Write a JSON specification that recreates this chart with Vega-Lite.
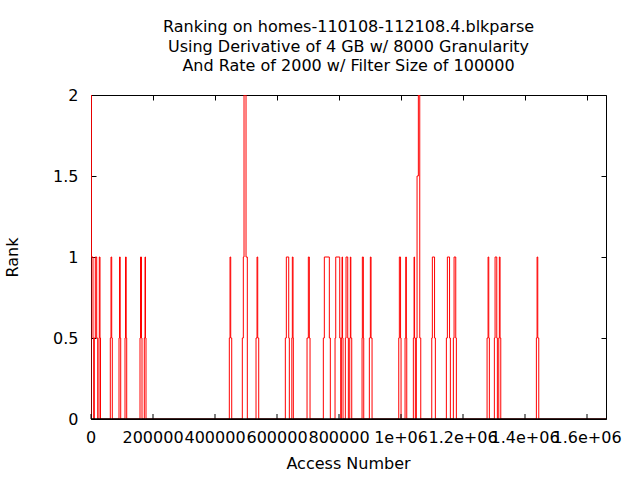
{
  "$schema": "https://vega.github.io/schema/vega-lite/v6.json",
  "width": 515,
  "height": 324,
  "autosize": "none",
  "padding": {"left": 91, "top": 95, "right": 34, "bottom": 61},
  "background": "white",
  "title": {
    "text": ["Ranking on homes-110108-112108.4.blkparse", "Using Derivative of 4 GB w/ 8000 Granularity", "And Rate of 2000 w/ Filter Size of 100000"],
    "font": "DejaVu Sans",
    "fontSize": 16,
    "fontWeight": "normal",
    "color": "black",
    "lineHeight": 19.5,
    "anchor": "middle",
    "offset": 13
  },
  "config": {
    "view": {"stroke": "black", "strokeWidth": 1},
    "axis": {
      "domain": true,
      "domainColor": "black",
      "domainWidth": 1,
      "grid": false,
      "ticks": true,
      "tickColor": "black",
      "tickSize": -5,
      "tickWidth": 1,
      "labelFont": "DejaVu Sans",
      "labelFontSize": 16,
      "labelColor": "black",
      "labelOverlap": false,
      "labelFlush": false,
      "titleFont": "DejaVu Sans",
      "titleFontSize": 16,
      "titleFontWeight": "normal",
      "titleColor": "black"
    }
  },
  "data": {
    "values": [
      {"access": 0, "rank": 0},
      {"access": 0, "rank": 2},
      {"access": 968, "rank": 1},
      {"access": 6452, "rank": 0.5},
      {"access": 8710, "rank": 0},
      {"access": 10645, "rank": 0.5},
      {"access": 13871, "rank": 1},
      {"access": 18387, "rank": 0.5},
      {"access": 21613, "rank": 0},
      {"access": 25806, "rank": 0.5},
      {"access": 26774, "rank": 1},
      {"access": 29032, "rank": 0.5},
      {"access": 30645, "rank": 0},
      {"access": 62258, "rank": 0.5},
      {"access": 64516, "rank": 1},
      {"access": 66774, "rank": 0.5},
      {"access": 68710, "rank": 0},
      {"access": 90322, "rank": 0.5},
      {"access": 91935, "rank": 1},
      {"access": 94193, "rank": 0.5},
      {"access": 95806, "rank": 0},
      {"access": 109677, "rank": 0.5},
      {"access": 111290, "rank": 1},
      {"access": 113548, "rank": 0.5},
      {"access": 115161, "rank": 0},
      {"access": 158064, "rank": 0.5},
      {"access": 159677, "rank": 1},
      {"access": 162903, "rank": 0.5},
      {"access": 164516, "rank": 0},
      {"access": 171935, "rank": 0.5},
      {"access": 174193, "rank": 1},
      {"access": 175806, "rank": 0.5},
      {"access": 177419, "rank": 0},
      {"access": 446128, "rank": 0.5},
      {"access": 448386, "rank": 1},
      {"access": 450644, "rank": 0.5},
      {"access": 453870, "rank": 0},
      {"access": 488064, "rank": 0.5},
      {"access": 491290, "rank": 1},
      {"access": 493547, "rank": 2},
      {"access": 500000, "rank": 1},
      {"access": 504193, "rank": 0},
      {"access": 532257, "rank": 0.5},
      {"access": 535483, "rank": 1},
      {"access": 537741, "rank": 0.5},
      {"access": 540967, "rank": 0},
      {"access": 626773, "rank": 0.5},
      {"access": 629999, "rank": 1},
      {"access": 637741, "rank": 0.5},
      {"access": 639676, "rank": 0},
      {"access": 647741, "rank": 0.5},
      {"access": 649354, "rank": 1},
      {"access": 651612, "rank": 0.5},
      {"access": 652579, "rank": 0},
      {"access": 696773, "rank": 0.5},
      {"access": 700966, "rank": 1},
      {"access": 704192, "rank": 0.5},
      {"access": 706450, "rank": 0},
      {"access": 749353, "rank": 0.5},
      {"access": 752579, "rank": 1},
      {"access": 768708, "rank": 0.5},
      {"access": 771934, "rank": 0},
      {"access": 787095, "rank": 0.5},
      {"access": 789353, "rank": 1},
      {"access": 802256, "rank": 0.5},
      {"access": 805482, "rank": 0},
      {"access": 807418, "rank": 0.5},
      {"access": 809676, "rank": 1},
      {"access": 811289, "rank": 0.5},
      {"access": 812902, "rank": 0},
      {"access": 820321, "rank": 0.5},
      {"access": 822579, "rank": 1},
      {"access": 828063, "rank": 0.5},
      {"access": 829998, "rank": 0},
      {"access": 834514, "rank": 0.5},
      {"access": 836450, "rank": 1},
      {"access": 838063, "rank": 0.5},
      {"access": 840966, "rank": 0},
      {"access": 874192, "rank": 0.5},
      {"access": 875159, "rank": 1},
      {"access": 878385, "rank": 0.5},
      {"access": 879676, "rank": 0},
      {"access": 897740, "rank": 0.5},
      {"access": 900966, "rank": 1},
      {"access": 903224, "rank": 0.5},
      {"access": 906450, "rank": 0},
      {"access": 992579, "rank": 0.5},
      {"access": 994514, "rank": 1},
      {"access": 998385, "rank": 0.5},
      {"access": 1000000, "rank": 0},
      {"access": 1012901, "rank": 0.5},
      {"access": 1015159, "rank": 1},
      {"access": 1017095, "rank": 0.5},
      {"access": 1018385, "rank": 0},
      {"access": 1039675, "rank": 0.5},
      {"access": 1041933, "rank": 1},
      {"access": 1043546, "rank": 0.5},
      {"access": 1046127, "rank": 0},
      {"access": 1049353, "rank": 0.5},
      {"access": 1051611, "rank": 1.5},
      {"access": 1055804, "rank": 2},
      {"access": 1060321, "rank": 0.5},
      {"access": 1063546, "rank": 0},
      {"access": 1099030, "rank": 0.5},
      {"access": 1100965, "rank": 1},
      {"access": 1108062, "rank": 0.5},
      {"access": 1110643, "rank": 0},
      {"access": 1146127, "rank": 0.5},
      {"access": 1149353, "rank": 1},
      {"access": 1156450, "rank": 0.5},
      {"access": 1159030, "rank": 0},
      {"access": 1168707, "rank": 0.5},
      {"access": 1170965, "rank": 1},
      {"access": 1176449, "rank": 0.5},
      {"access": 1178385, "rank": 0},
      {"access": 1277417, "rank": 0.5},
      {"access": 1280643, "rank": 1},
      {"access": 1282901, "rank": 0.5},
      {"access": 1284836, "rank": 0},
      {"access": 1300965, "rank": 0.5},
      {"access": 1303223, "rank": 1},
      {"access": 1308707, "rank": 0.5},
      {"access": 1310642, "rank": 0},
      {"access": 1315159, "rank": 0.5},
      {"access": 1317094, "rank": 1},
      {"access": 1319352, "rank": 0.5},
      {"access": 1321610, "rank": 0},
      {"access": 1436449, "rank": 0.5},
      {"access": 1438707, "rank": 1},
      {"access": 1440965, "rank": 0.5},
      {"access": 1444190, "rank": 0},
      {"access": 1661000, "rank": 0}
    ]
  },
  "layer": [
    {
      "mark": {"type": "line", "interpolate": "step-after", "color": "#ff0000", "strokeWidth": 1, "clip": true},
      "encoding": {
        "x": {
          "field": "access",
          "type": "quantitative",
          "scale": {"domain": [0, 1661000], "nice": false, "zero": false},
          "axis": {
            "orient": "bottom",
            "title": "Access Number",
            "zindex": 2,
            "translate": 0,
            "domainWidth": 1.5,
            "values": [0, 200000, 400000, 600000, 800000, 1000000, 1200000, 1400000, 1600000],
            "labelExpr": "datum.value >= 1000000 ? format(datum.value / 1000000, '~g') + 'e+06' : format(datum.value, 'd')",
            "labelPadding": 16,
            "titlePadding": 10
          }
        },
        "y": {
          "field": "rank",
          "type": "quantitative",
          "scale": {"domain": [0, 2], "nice": false},
          "axis": {
            "orient": "left",
            "title": "Rank",
            "domain": false,
            "values": [0, 0.5, 1, 1.5, 2],
            "format": "~g",
            "labelPadding": 18,
            "titlePadding": 32
          }
        }
      }
    },
    {
      "mark": {"type": "line", "interpolate": "step-after", "opacity": 0},
      "encoding": {
        "x": {
          "field": "access",
          "type": "quantitative",
          "axis": {
            "orient": "top",
            "title": null,
            "labels": false,
            "domain": false,
            "values": [0, 200000, 400000, 600000, 800000, 1000000, 1200000, 1400000, 1600000]
          }
        },
        "y": {
          "field": "rank",
          "type": "quantitative",
          "axis": {
            "orient": "right",
            "title": null,
            "labels": false,
            "domain": false,
            "values": [0, 0.5, 1, 1.5, 2]
          }
        }
      }
    }
  ],
  "resolve": {"axis": {"x": "independent", "y": "independent"}}
}
